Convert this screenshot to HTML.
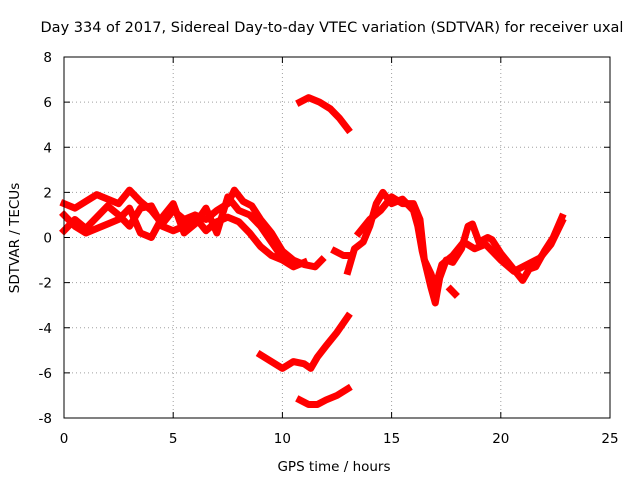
<!DOCTYPE html>
<html><head><meta charset="utf-8"><style>
body{margin:0;background:#fff;}
svg text{font-family:"DejaVu Sans","Liberation Sans",sans-serif;font-size:13.5px;fill:#000;}
</style></head><body>
<svg id="chart" width="640" height="480">
<text x="332" y="32" text-anchor="middle" style="font-size:14.5px">Day 334 of 2017, Sidereal Day-to-day VTEC variation (SDTVAR) for receiver uxal</text>
<text x="334" y="471" text-anchor="middle">GPS time / hours</text>
<text transform="translate(19,238) rotate(-90)" text-anchor="middle">SDTVAR / TECUs</text>
<g id="grid"></g><g id="ticks"></g><g id="series"></g>
<rect x="64" y="57" width="546" height="361" fill="none" stroke="#000" stroke-width="1"/>
</svg>
<script>
const xTicks=[0,5,10,15,20,25];
const yTicks=[-8,-6,-4,-2,0,2,4,6,8];
const line1=[[0,1.5],[0.5,1.3],[1,1.6],[1.5,1.9],[2,1.7],[2.5,1.5],[3,2.1],[3.5,1.6],[4,1.2],[4.5,0.6],[5,1.2],[5.5,0.8],[6,1.0],[6.5,0.8],[7,1.2],[7.5,1.5],[7.8,2.1],[8.2,1.6],[8.6,1.4],[9,0.8],[9.5,0.2],[10,-0.6],[10.5,-1.0],[11,-1.2],[11.5,-1.3],[11.8,-1.0]];
const line2=[[0,0.3],[0.5,0.8],[1,0.4],[1.5,0.9],[2,1.4],[2.5,1.0],[3,0.5],[3.5,1.3],[4,1.4],[4.5,0.5],[5,0.3],[5.5,0.5],[6,0.9],[6.5,0.3],[7,0.7],[7.5,0.9],[8,0.7],[8.5,0.2],[9,-0.4],[9.5,-0.8],[10,-1.0],[10.5,-1.3],[11,-1.1]];
const line3=[[0,1.0],[0.5,0.5],[1,0.2],[1.5,0.4],[2,0.6],[2.5,0.8],[3,1.3],[3.5,0.2],[4,0.0],[4.5,0.9],[5,1.5],[5.5,0.2],[6,0.6],[6.5,1.3],[7,0.2],[7.5,1.8],[8,1.2],[8.5,1.0],[9,0.5],[9.5,-0.2],[10,-0.9]];
const seg4=[[12.4,-0.6],[12.8,-0.8],[13,-0.8]];
const line5=[[13,-1.5],[13.3,-0.5],[13.7,-0.2],[14,0.5],[14.3,1.5],[14.6,2.0],[15,1.5],[15.5,1.7],[16,1.2],[16.2,0.5],[16.4,-0.6],[16.6,-1.4],[16.8,-2.2],[17,-2.9],[17.2,-1.8],[17.5,-1.0],[17.8,-1.1],[18.2,-0.5],[18.5,0.5],[18.7,0.6],[19,-0.2],[19.4,0.0],[19.6,-0.1],[20,-0.7],[20.5,-1.3],[21,-1.9],[21.3,-1.4],[21.6,-1.3],[22,-0.6],[22.4,0.0],[22.8,0.9]];
const line6=[[13.5,0.2],[14,0.8],[14.5,1.2],[15,1.8],[15.5,1.5],[16,1.5],[16.3,0.8],[16.5,-1.0],[16.8,-1.6],[17,-2.2],[17.3,-1.2],[17.8,-0.8],[18.3,-0.2],[18.8,-0.5],[19.3,-0.3],[20,-1.0],[20.6,-1.5],[21.2,-1.2],[21.8,-0.9],[22.3,-0.3],[22.8,0.7]];
const seg7=[[17.7,-2.3],[17.9,-2.5]];
const upper=[[10.8,6.0],[11.2,6.2],[11.7,6.0],[12.2,5.7],[12.6,5.3],[13,4.8]];
const lower=[[9,-5.2],[9.5,-5.5],[10,-5.8],[10.5,-5.5],[11,-5.6],[11.3,-5.8],[11.6,-5.3],[12,-4.8],[12.5,-4.2],[13,-3.5]];
const bottom=[[10.8,-7.2],[11.2,-7.4],[11.6,-7.4],[12,-7.2],[12.5,-7.0],[13,-6.7]];
const allSeries=[line1,line2,line3,seg4,line5,line6,seg7,upper,lower,bottom];
const X=v=>64+v*546/25, Y=v=>237.5-v*361/16;
const NS="http://www.w3.org/2000/svg";
const g=document.getElementById('grid'),t=document.getElementById('ticks'),s=document.getElementById('series');
function mk(tag,attrs,parent){const e=document.createElementNS(NS,tag);for(const k in attrs)e.setAttribute(k,attrs[k]);parent.appendChild(e);return e;}
xTicks.forEach(v=>{
 if(v>0&&v<25){const l=mk('line',{x1:X(v),x2:X(v),y1:57,y2:418,stroke:'#a0a0a0','stroke-dasharray':'1,3'},g);
 
 }
 mk('line',{x1:X(v),x2:X(v),y1:418,y2:412,stroke:'#000'},t);
 mk('line',{x1:X(v),x2:X(v),y1:57,y2:63,stroke:'#000'},t);
 const tx=mk('text',{x:X(v),y:443,'text-anchor':'middle'},t);tx.textContent=v;
 
 
});
yTicks.forEach(v=>{
 if(v>-8&&v<8){const l=mk('line',{x1:64,x2:610,y1:Y(v),y2:Y(v),stroke:'#a0a0a0','stroke-dasharray':'1,3'},g);
 
 }
 mk('line',{x1:64,x2:70,y1:Y(v),y2:Y(v),stroke:'#000'},t);
 mk('line',{x1:610,x2:604,y1:Y(v),y2:Y(v),stroke:'#000'},t);
 const tx=mk('text',{x:52,y:Y(v)+5,'text-anchor':'end'},t);tx.textContent=v;
 
 
});
allSeries.forEach(ser=>{
 const p=mk('polyline',{points:ser.map(d=>X(d[0])+','+Y(d[1])).join(' '),fill:'none',stroke:'#ff0000','stroke-width':7,'stroke-linejoin':'round','stroke-linecap':'square'},s);
 
 
});
</script>
</body></html>
